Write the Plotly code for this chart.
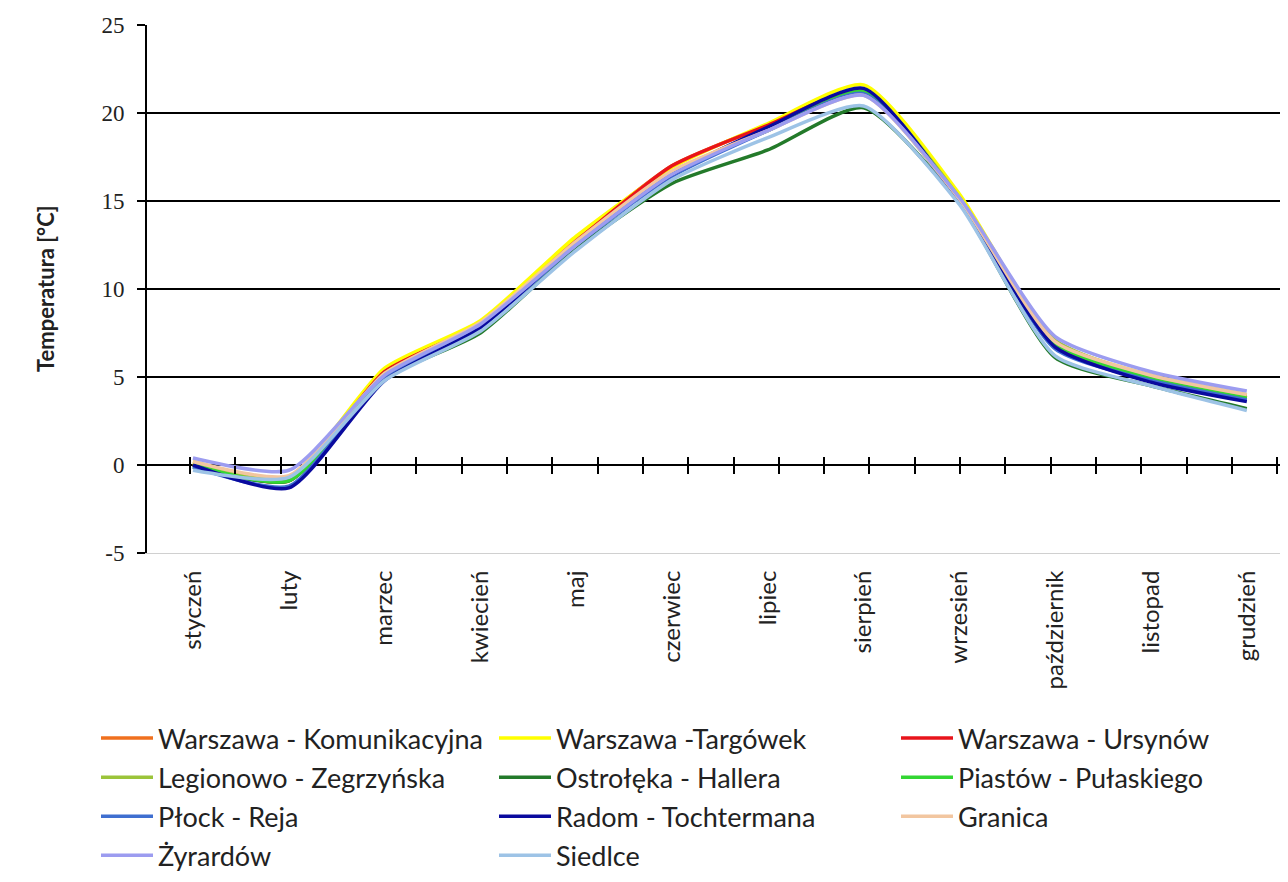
import plotly.graph_objects as go

MONTHS = ["styczeń", "luty", "marzec", "kwiecień", "maj", "czerwiec",
          "lipiec", "sierpień", "wrzesień", "październik", "listopad", "grudzień"]

Y_TICKS = [-5, 0, 5, 10, 15, 20, 25]
GRID_VALUES = [5, 10, 15, 20, 25]

warszawa_komunikacyjna = [0.1, -0.8, 5.4, 8.1, 12.8, 17.0, 19.3, 21.3, 15.1, 6.8, 5.0, 3.8]
warszawa_targowek = [0.2, -0.7, 5.5, 8.2, 13.0, 16.9, 19.4, 21.6, 15.4, 7.0, 5.1, 4.0]
warszawa_ursynow = [0.0, -0.9, 5.3, 8.0, 12.7, 17.0, 19.3, 21.3, 15.1, 6.8, 4.9, 3.8]
legionowo = [0.1, -0.8, 5.2, 7.9, 12.6, 16.6, 19.1, 21.3, 15.2, 7.1, 5.0, 3.9]
ostroleka = [-0.1, -0.9, 4.9, 7.5, 12.3, 16.0, 17.9, 20.3, 14.9, 6.1, 4.5, 3.2]
piastow = [0.0, -0.9, 5.0, 7.9, 12.6, 16.6, 19.0, 21.2, 15.1, 6.9, 4.9, 3.8]
plock = [-0.1, -1.2, 4.9, 7.8, 12.5, 16.4, 19.0, 21.1, 15.0, 6.6, 4.8, 3.7]
radom = [0.0, -1.3, 4.8, 7.8, 12.6, 16.5, 19.2, 21.4, 15.0, 6.7, 4.7, 3.6]
granica = [0.2, -0.6, 5.2, 8.1, 12.7, 16.7, 19.0, 21.0, 15.1, 7.0, 5.1, 4.0]
zyrardow = [0.4, -0.3, 5.1, 8.0, 12.5, 16.5, 19.0, 21.0, 15.2, 7.3, 5.3, 4.2]
siedlce = [-0.3, -0.7, 4.8, 7.6, 12.2, 16.2, 18.6, 20.4, 14.8, 6.2, 4.5, 3.1]

SERIES = [
    ("Warszawa - Komunikacyjna", warszawa_komunikacyjna),
    ("Warszawa -Targówek", warszawa_targowek),
    ("Warszawa - Ursynów", warszawa_ursynow),
    ("Legionowo - Zegrzyńska", legionowo),
    ("Ostrołęka - Hallera", ostroleka),
    ("Piastów - Pułaskiego", piastow),
    ("Płock - Reja", plock),
    ("Radom - Tochtermana", radom),
    ("Granica", granica),
    ("Żyrardów", zyrardow),
    ("Siedlce", siedlce),
]

COLORS = ["#F0701E", "#FFFF00", "#E8141B", "#9BC43A", "#237A2A", "#33D633",
          "#3F6FD0", "#0A0A9E", "#F2C6A0", "#9C9CF0", "#9DC3E6"]

Y_RANGE = [-5, 25]
SANS = "Lato"

# page has an 8px body margin -> figure is drawn 8px right/down
W = 1280
H = 874
M_L, M_T, M_B = 139, 17, 329

fig = go.Figure()
legend_ids = ["legend", "legend2", "legend3"]
for i, (name, vals) in enumerate(SERIES):
    fig.add_trace(go.Scatter(
        x=MONTHS, y=vals, name=name, mode="lines",
        line=dict(color=COLORS[i], width=3.5, shape="spline", smoothing=0.6),
        legend=legend_ids[i % 3], legendgroup=name,
    ))

# invisible helpers so the overlay axes (grid + crossing ticks at y=0) are drawn
fig.add_trace(go.Scatter(x=[None], y=[None], xaxis="x2", yaxis="y2",
                         showlegend=False, hoverinfo="skip"))
fig.add_trace(go.Scatter(x=[None], y=[None], xaxis="x3", yaxis="y2",
                         showlegend=False, hoverinfo="skip"))

zero_pos = (0 - Y_RANGE[0]) / (Y_RANGE[1] - Y_RANGE[0])

legend_common = dict(
    orientation="v", xref="container", yref="container",
    xanchor="left", yanchor="top",
    font=dict(family=SANS, size=27, color="#222222"),
    bgcolor="rgba(0,0,0,0)", tracegroupgap=1, itemwidth=52,
)
legend_top = 1 - 706 / H

plot_w = W - M_L
fig.update_layout(
    width=W, height=H,
    margin=dict(l=M_L, r=0, t=M_T, b=M_B, autoexpand=False),
    paper_bgcolor="white", plot_bgcolor="white",
    showlegend=True,
    legend=dict(legend_common, x=88 / W, y=legend_top),
    legend2=dict(legend_common, x=486 / W, y=legend_top),
    legend3=dict(legend_common, x=888 / W, y=legend_top),
    xaxis=dict(
        type="category", range=[-0.48, 11.43],
        showgrid=False, zeroline=False,
        showline=True, linecolor="#d0d0d0", linewidth=1,
        ticks="", tickangle=-90, ticklabelstandoff=7,
        tickfont=dict(family=SANS, size=24, color="#222222"),
    ),
    xaxis2=dict(
        overlaying="x", anchor="free", position=zero_pos,
        range=[-0.949, 24.24], dtick=1, tick0=0,
        showticklabels=False, showgrid=False, zeroline=False, showline=False,
        ticks="outside", ticklen=8, tickwidth=2, tickcolor="black",
    ),
    xaxis3=dict(
        overlaying="x", anchor="free", position=zero_pos,
        range=[-0.949, 24.24], dtick=1, tick0=0,
        showticklabels=False, showgrid=False, zeroline=False, showline=False,
        ticks="inside", ticklen=8, tickwidth=2, tickcolor="black",
    ),
    yaxis=dict(
        range=Y_RANGE, tickvals=Y_TICKS, ticktext=[str(v) for v in Y_TICKS],
        showgrid=False, zeroline=True, zerolinecolor="black", zerolinewidth=2,
        showline=True, linecolor="black", linewidth=2,
        ticks="outside", ticklen=8, tickwidth=2, tickcolor="black",
        ticklabelstandoff=8,
        tickfont=dict(family="Liberation Serif", size=23, color="#222222"),
    ),
    yaxis2=dict(
        overlaying="y", anchor="x", range=Y_RANGE, tickvals=GRID_VALUES,
        showticklabels=False, showgrid=True, gridcolor="black", gridwidth=2,
        zeroline=False, showline=False, ticks="",
    ),
    annotations=[dict(
        text="<b>Temperatura [°C]</b>", textangle=-90,
        xref="paper", yref="paper", x=(37 - M_L) / plot_w, y=0.5,
        xanchor="center", yanchor="middle", showarrow=False,
        font=dict(family=SANS, size=22, color="#222222"),
    )],
)

fig.write_html("out.html")
